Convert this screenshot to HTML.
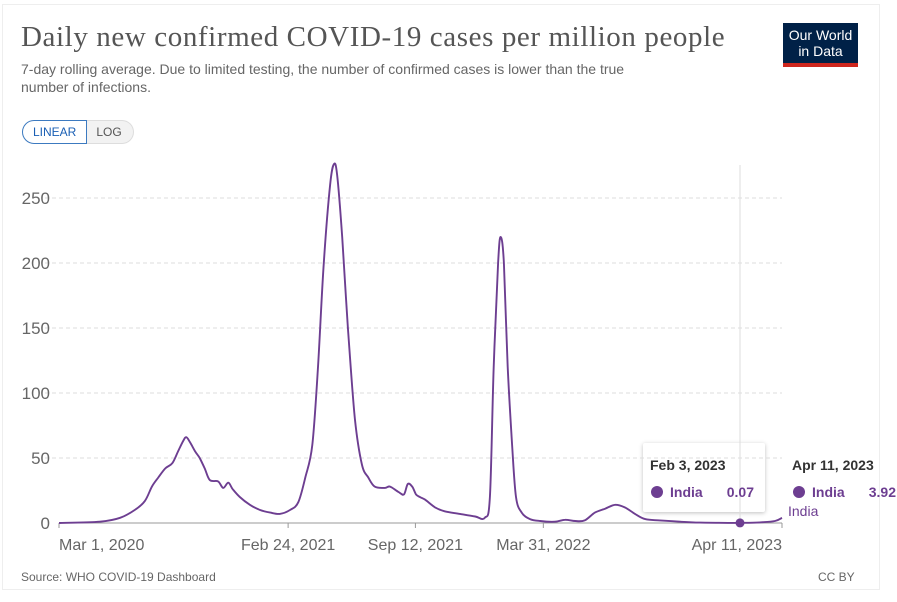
<!DOCTYPE html>
<html><head><meta charset="utf-8"><style>
body{margin:0;background:#fff;width:897px;height:602px;overflow:hidden;font-family:"Liberation Sans",sans-serif}
.card{position:absolute;left:2px;top:4px;width:878px;height:586px;border:1px solid #eee;box-sizing:border-box}
.title{position:absolute;left:21px;top:21px;font-family:"Liberation Serif",serif;font-size:29px;color:#555;letter-spacing:0.6px}
.sub{position:absolute;left:21px;top:60px;font-size:14px;color:#666;line-height:18px;width:650px}
.logo{position:absolute;left:783px;top:23px;width:75px;height:44px;background:#002147;color:#fff;font-size:14px;text-align:center;line-height:16px;padding-top:4px;box-sizing:border-box;border-bottom:4px solid #ce261e}
.btns{position:absolute;left:22px;top:120px;height:24px;display:flex;font-size:12px}
.b1{border:1px solid #3c7ac0;border-radius:12px 0 0 12px;color:#1a5fb4;padding:0 10px;line-height:22px}
.b2{border:1px solid #ddd;border-left:none;border-radius:0 12px 12px 0;background:#f2f2f2;color:#555;padding:0 11px 0 9px;line-height:22px}
.tip{position:absolute;left:643px;top:443px;width:122px;height:69px;background:#fff;box-shadow:0 1px 4px rgba(0,0,0,.25);border-radius:2px}
.src{position:absolute;left:21px;top:570px;font-size:12px;color:#666}
.cc{position:absolute;left:818px;top:570px;font-size:12px;color:#666}
</style></head><body>
<div class="card"></div>
<div class="title">Daily new confirmed COVID-19 cases per million people</div>
<div class="sub">7-day rolling average. Due to limited testing, the number of confirmed cases is lower than the true number of infections.</div>
<div class="logo">Our World<br>in Data</div>
<div class="btns"><div class="b1">LINEAR</div><div class="b2">LOG</div></div>
<div class="tip"></div>
<svg id="ch" width="897" height="602" style="position:absolute;left:0;top:0"></svg>
<div class="src">Source: WHO COVID-19 Dashboard</div>
<div class="cc">CC BY</div>
<script>
const days=[0,64,96,119,135,146,156,167,178,187,195,200,206,214,221,229,237,250,258,266,273,284,300,316,332,347,363,376,387,398,407,416,426,432,437,445,454,465,476,486,496,512,520,533,542,548,555,561,567,575,591,606,630,654,669,677,683,690,694,699,705,712,718,727,740,756,779,795,811,826,842,858,874,889,905,921,944,976,1007,1054,1070,1101,1125,1136];
const values=[0,1,4,10,17,28,35,42,46,55,63,66,62,55,50,42,33,32,27,31,26,20,14,10,8,7,10,16,35,60,120,200,260,276,268,220,150,80,45,35,28,27,28,24,22,30,28,22,20,18,12,9,7,5,4,20,120,200,220,200,120,60,20,8,3,1.5,1,2.5,1.5,2,8,11,14,12,7,3,2,1,0.3,0.1,0.07,0.5,1.5,3.92];
const yTicks=[0,50,100,150,200,250];
const xTickDays=[0,360,560,761,1136];
const xTickLabels=["Mar 1, 2020","Feb 24, 2021","Sep 12, 2021","Mar 31, 2022","Apr 11, 2023"];
const hoverDay=1070, hoverValue=0.07, lastValue=3.92;
const X=d=>59+d*(723/1136), Y=v=>523-v*1.3;
const svg=document.getElementById('ch'), NS='http://www.w3.org/2000/svg';
function mk(t,a,txt){const e=document.createElementNS(NS,t);for(const k in a)e.setAttribute(k,a[k]);if(txt!=null)e.textContent=txt;svg.appendChild(e);return e;}
yTicks.forEach(v=>{
 if(v>0){const l=mk('line',{x1:45,x2:782,y1:Y(v),y2:Y(v),stroke:'#ddd','stroke-dasharray':'4 3'});
 
 }
 const t=mk('text',{x:50,y:Y(v)+6,'text-anchor':'end','font-size':17,fill:'#666','font-family':'Liberation Sans'},v);
 
 
});
const ax=mk('line',{x1:59,x2:782,y1:523,y2:523,stroke:'#999'});


xTickDays.forEach((d,i)=>{
 const tk=mk('line',{x1:X(d),x2:X(d),y1:523,y2:528,stroke:'#999'});
 
 
 const anchor=i==0?'start':(i==xTickDays.length-1?'end':'middle');
 const t=mk('text',{x:X(d),y:550,'text-anchor':anchor,'font-size':16,fill:'#666','font-family':'Liberation Sans'},xTickLabels[i]);
 
 
});
const hl=mk('line',{x1:X(hoverDay),x2:X(hoverDay),y1:165,y2:523,stroke:'#ddd'});


const pts=days.map((d,i)=>[X(d),Y(values[i])]);
let dstr='M'+pts[0][0].toFixed(1)+','+pts[0][1].toFixed(1);
for(let i=0;i<pts.length-1;i++){
 const p0=pts[i-1]||pts[i],p1=pts[i],p2=pts[i+1],p3=pts[i+2]||p2;
 let c1y=p1[1]+(p2[1]-p0[1])/6, c2y=p2[1]-(p3[1]-p1[1])/6;
 c1y=Math.min(c1y,523);c2y=Math.min(c2y,523);
 dstr+='C'+(p1[0]+(p2[0]-p0[0])/6).toFixed(1)+','+c1y.toFixed(1)+' '+(p2[0]-(p3[0]-p1[0])/6).toFixed(1)+','+c2y.toFixed(1)+' '+p2[0].toFixed(1)+','+p2[1].toFixed(1);
}
const p=mk('path',{d:dstr,fill:'none',stroke:'#6d3e91','stroke-width':1.9,'stroke-linejoin':'round'});


const dot=mk('circle',{cx:X(hoverDay),cy:Y(hoverValue),r:4.5,fill:'#6d3e91'});


const lab=mk('text',{x:788,y:Y(lastValue)-2,'font-size':14,fill:'#6d3e91','font-family':'Liberation Sans'},'India');


function tip(x,date,val,nm){
 const a=mk('text',{x:x,y:470,'font-size':14,'font-weight':'bold',fill:'#333','font-family':'Liberation Sans'},date);
 
 
 const c=mk('circle',{cx:x+7,cy:492,r:6,fill:'#6d3e91'});
 
 
 const b=mk('text',{x:x+20,y:497,'font-size':14,'font-weight':'bold',fill:'#6d3e91','font-family':'Liberation Sans'},'India');
 
 
 const v=mk('text',{x:x+104,y:497,'text-anchor':'end','font-size':14,'font-weight':'bold',fill:'#6d3e91','font-family':'Liberation Sans'},val);
 
 
}
tip(650,'Feb 3, 2023',hoverValue.toFixed(2),'tooltip');
tip(792,'Apr 11, 2023',lastValue.toFixed(2),'end-tooltip');
</script>
</body></html>
